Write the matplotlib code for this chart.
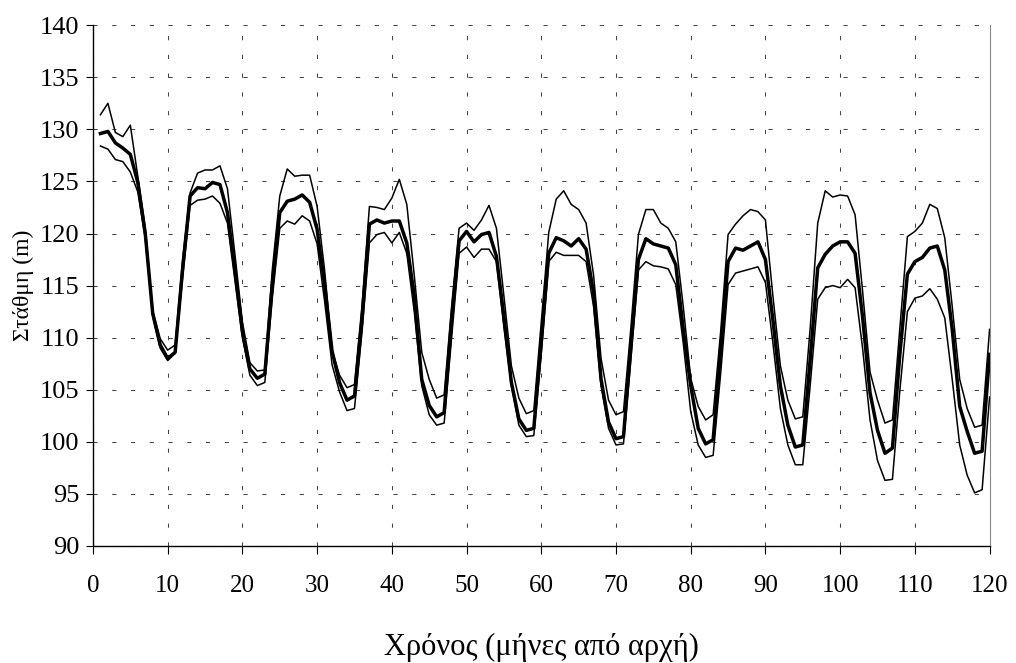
import numpy as np
import matplotlib
matplotlib.use("Agg")
import matplotlib.pyplot as plt

plt.rcParams['font.family'] = ['Liberation Serif', 'DejaVu Serif']

# months since start
months = np.arange(1, 121)

# middle (thick) series
mid = [129.6, 129.8, 128.7, 128.2, 127.6, 124.9, 120.0, 112.3, 109.3, 108.0,
       108.6, 116.6, 123.6, 124.4, 124.3, 124.9, 124.7, 122.0, 116.5, 110.6,
       107.0, 106.1, 106.5, 115.1, 122.0, 123.1, 123.3, 123.7, 123.0, 120.4,
       115.1, 108.7, 105.7, 104.0, 104.4, 111.7, 120.9, 121.3, 121.0, 121.2,
       121.2, 119.1, 114.0, 106.0, 103.5, 102.4, 102.8, 111.7, 119.3, 120.2,
       119.2, 119.9, 120.1, 117.8, 112.0, 105.7, 102.2, 101.1, 101.3, 109.6,
       118.1, 119.6, 119.3, 118.8, 119.5, 118.5, 114.3, 106.0, 101.9, 100.3,
       100.5, 109.2, 117.5, 119.5, 119.0, 118.8, 118.6, 117.0, 110.8, 105.4,
       101.3, 99.8, 100.2, 108.7, 117.3, 118.6, 118.4, 118.8, 119.2, 117.5,
       111.7, 105.4, 101.6, 99.5, 99.7, 108.0, 116.7, 118.0, 118.8, 119.2,
       119.2, 118.1, 112.0, 104.7, 101.1, 98.9, 99.4, 108.5, 116.1, 117.3,
       117.7, 118.6, 118.8, 116.5, 110.8, 103.4, 101.0, 98.9, 99.1, 108.4]

# upper (thin) series
upper = [131.4, 132.5, 129.7, 129.3, 130.4, 125.5, 120.5, 112.6, 109.9, 108.8,
         109.3, 117.5, 123.9, 125.8, 126.1, 126.1, 126.5, 124.3, 118.0, 111.5,
         107.6, 106.8, 106.9, 116.5, 123.6, 126.2, 125.5, 125.6, 125.6, 122.6,
         116.5, 108.8, 106.4, 105.2, 105.5, 113.0, 122.6, 122.5, 122.3, 123.4,
         125.2, 122.8, 116.0, 108.6, 106.0, 104.2, 104.5, 113.0, 120.5, 121.0,
         120.3, 121.3, 122.7, 120.5, 114.0, 107.3, 104.2, 102.7, 103.0, 111.5,
         120.1, 123.3, 124.1, 122.8, 122.3, 121.0, 116.0, 108.0, 104.0, 102.6,
         102.9, 111.0, 119.9, 122.3, 122.3, 121.0, 120.5, 119.2, 113.0, 106.1,
         103.4, 102.1, 102.6, 110.5, 119.9, 120.9, 121.7, 122.3, 122.1, 121.3,
         114.0, 107.3, 104.0, 102.2, 102.4, 111.0, 121.0, 124.1, 123.5, 123.7,
         123.6, 121.8, 114.5, 106.7, 104.0, 101.8, 102.1, 111.0, 119.7, 120.2,
         121.0, 122.8, 122.4, 119.6, 113.0, 106.0, 103.2, 101.4, 101.6, 110.8]

# lower (thin) series
lower = [128.4, 128.1, 127.1, 126.9, 125.9, 124.0, 119.5, 112.1, 109.0, 107.8,
         108.5, 115.8, 122.7, 123.2, 123.3, 123.6, 122.9, 121.0, 115.5, 110.0,
         106.4, 105.4, 105.7, 113.8, 120.5, 121.2, 120.9, 121.7, 121.2, 119.0,
         113.5, 107.4, 104.8, 103.0, 103.2, 110.5, 119.1, 119.9, 120.1, 119.1,
         120.1, 118.1, 112.5, 105.4, 102.6, 101.6, 101.8, 110.0, 118.1, 118.7,
         117.7, 118.5, 118.5, 117.3, 111.0, 105.4, 101.6, 100.5, 100.6, 108.5,
         117.3, 118.2, 117.9, 117.9, 117.9, 117.3, 113.0, 105.4, 101.3, 99.7,
         99.8, 108.0, 116.5, 117.3, 116.9, 116.8, 116.6, 115.1, 109.5, 102.9,
         99.7, 98.5, 98.7, 106.5, 115.1, 116.2, 116.4, 116.6, 116.8, 115.3,
         109.5, 103.2, 99.7, 97.8, 97.8, 105.5, 113.7, 114.8, 115.0, 114.8,
         115.6, 114.8, 109.0, 102.1, 98.2, 96.3, 96.4, 105.0, 112.5, 113.8,
         114.0, 114.7, 113.7, 111.9, 106.0, 99.7, 96.8, 95.1, 95.4, 104.3]

fig = plt.figure(figsize=(10.16, 6.63), dpi=100)
ax = fig.add_axes([0.0915, 0.1765, 0.8825, 0.7855])

ax.plot(months, upper, color='black', lw=1.1)
ax.plot(months, lower, color='black', lw=1.1)
ax.plot(months, mid, color='black', lw=2.5)

ax.set_xlim(0, 120)
ax.set_ylim(90, 140)
ax.set_xticks(np.arange(0, 121, 10))
ax.set_yticks(np.arange(90, 141, 5))

ax.grid(True, color='#444444', linestyle=(0, (4, 14)), linewidth=0.75)
ax.set_axisbelow(True)

ax.spines['top'].set_visible(False)
ax.spines['right'].set_color('#888888')
ax.spines['left'].set_linewidth(1.0)
ax.spines['bottom'].set_linewidth(1.0)

ax.tick_params(axis='x', direction='out', length=6, pad=15, labelsize=18)
ax.tick_params(axis='y', direction='out', length=5, pad=5, labelsize=19)

ax.set_xlabel('Χρόνος (μήνες από αρχή)', fontsize=22, labelpad=26)
ax.set_ylabel('Στάθμη (m)', fontsize=17, labelpad=4)

fig.savefig('out.png', dpi=100)
